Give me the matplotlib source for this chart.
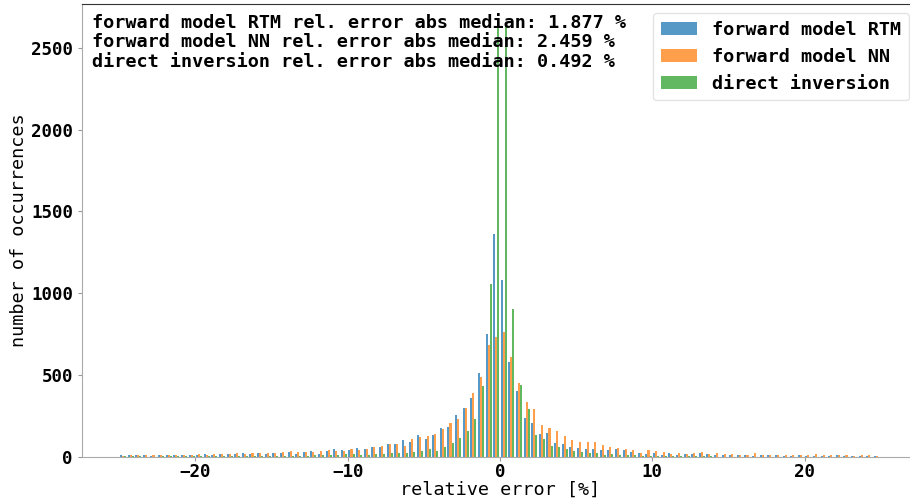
import numpy as np
import matplotlib
matplotlib.use('Agg')
import matplotlib.pyplot as plt

# histogram of relative errors, 100 bins of 0.5 % between -25 and 25
edges = np.linspace(-25, 25, 101)
centers = 0.5 * (edges[:-1] + edges[1:])

rtm_counts = [14, 12, 14, 10, 6, 10, 10, 14, 10, 10,
              14, 18, 12, 18, 18, 18, 24, 18, 24, 18,
              24, 24, 32, 18, 30, 39, 20, 34, 49, 41,
              45, 57, 47, 61, 61, 79, 77, 101, 89, 132,
              108, 136, 177, 185, 254, 299, 358, 514, 750, 1360,
              1080, 581, 403, 236, 210, 138, 144, 83, 79, 63,
              55, 49, 47, 41, 43, 49, 43, 33, 26, 20,
              24, 12, 26, 12, 20, 20, 22, 18, 10, 12,
              14, 12, 12, 8, 10, 10, 10, 8, 8, 10,
              8, 8, 6, 8, 10, 6, 6, 4, 4, 4]
nn_counts = [8, 12, 10, 10, 12, 10, 14, 12, 12, 14,
             18, 14, 16, 18, 18, 22, 18, 22, 22, 24,
             24, 32, 37, 30, 30, 30, 34, 41, 37, 39,
             47, 43, 47, 61, 67, 81, 79, 69, 110, 122,
             128, 142, 169, 205, 230, 299, 389, 490, 683, 732,
             764, 612, 449, 337, 296, 197, 179, 159, 128, 104,
             90, 90, 90, 73, 59, 55, 47, 41, 26, 45,
             35, 33, 16, 26, 20, 26, 28, 20, 24, 18,
             20, 14, 14, 22, 12, 12, 14, 12, 10, 14,
             12, 18, 12, 10, 12, 10, 8, 10, 10, 8]
inv_counts = [4, 4, 4, 3, 3, 4, 4, 4, 4, 4,
              5, 5, 5, 6, 6, 6, 6, 7, 7, 7,
              8, 8, 9, 8, 9, 10, 10, 12, 14, 16,
              18, 10, 14, 18, 18, 24, 24, 26, 33, 37,
              47, 38, 63, 83, 118, 160, 234, 435, 1055, 2623,
              2635, 901, 439, 291, 133, 108, 69, 63, 49, 35,
              33, 24, 24, 14, 20, 14, 14, 10, 8, 8,
              6, 6, 6, 4, 4, 4, 4, 4, 3, 3,
              3, 3, 3, 3, 2, 2, 2, 2, 2, 2,
              2, 2, 2, 2, 2, 2, 2, 2, 1, 1]

labels = ['forward model RTM', 'forward model NN', 'direct inversion']
medians = [1.877, 2.459, 0.492]
colors = ['#1f77b4', '#ff7f0e', '#2ca02c']

plt.rcParams['font.family'] = 'DejaVu Sans Mono'

fig = plt.figure(figsize=(9.1, 5.01), dpi=100)
ax = fig.add_axes([82/910, 44/501, 836/910, 453/501])

ax.hist([centers, centers, centers], bins=edges,
        weights=[rtm_counts, nn_counts, inv_counts],
        color=colors, alpha=0.75, label=labels)

txt = '\n'.join('%s rel. error abs median: %.3f %%' % (l, m) for l, m in zip(labels, medians))
ax.text(0.012, 0.979, txt, transform=ax.transAxes, va='top', ha='left',
        fontsize=13.3, fontweight='bold', linespacing=1.12)

leg = ax.legend(loc='upper right', prop={'size': 13.3, 'weight': 'bold'})
leg.get_frame().set_edgecolor('#dddddd')

ax.set_xlabel('relative error [%]', fontsize=13.3, labelpad=0)
ax.set_ylabel('number of occurrences', fontsize=13.3, labelpad=2)
ax.set_xticks([-20, -10, 0, 10, 20])
ax.set_yticks([0, 500, 1000, 1500, 2000, 2500])
for t in ax.get_xticklabels() + ax.get_yticklabels():
    t.set_fontweight('bold')
    t.set_fontsize(12.6)
ax.tick_params(color='#999999', length=3)
ax.tick_params(axis='x', pad=1)
for s in ['left', 'bottom']:
    ax.spines[s].set_color('#aaaaaa')
ax.spines['top'].set_color('#333333')

fig.savefig('out.png', dpi=100)
